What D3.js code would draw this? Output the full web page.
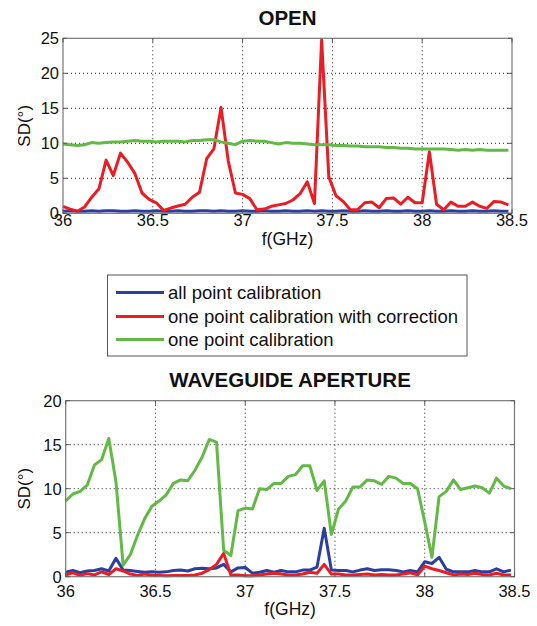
<!DOCTYPE html>
<html>
<head>
<meta charset="utf-8">
<script src="https://cdn.jsdelivr.net/npm/d3@7/dist/d3.min.js"></script>
<style>
  html, body { margin: 0; padding: 0; background: #fff; }
  svg { display: block; font-family: "Liberation Sans", Arial, sans-serif; }
</style>
</head>
<body>
<svg id="chart" width="537" height="626"></svg>
<script>
// ---------- DATA ----------
const freq = [36.00,36.04,36.08,36.12,36.16,36.20,36.24,36.28,36.32,36.36,
  36.40,36.44,36.48,36.52,36.56,36.60,36.64,36.68,36.72,36.76,
  36.80,36.84,36.88,36.92,36.96,37.00,37.04,37.08,37.12,37.16,
  37.20,37.24,37.28,37.32,37.36,37.40,37.44,37.48,37.52,37.56,
  37.60,37.64,37.68,37.72,37.76,37.80,37.84,37.88,37.92,37.96,
  38.00,38.04,38.08,38.12,38.16,38.20,38.24,38.28,38.32,38.36,
  38.40,38.44,38.48];

const seriesNames = ["all point calibration", "one point calibration with correction", "one point calibration"];
const seriesColors = ["#2b3f9e", "#ec1c24", "#62b946"];

// OPEN
const openAll = [0.3,0.35,0.3,0.3,0.35,0.3,0.35,0.35,0.3,0.3,
  0.35,0.3,0.3,0.35,0.3,0.3,0.35,0.3,0.3,0.35,
  0.35,0.3,0.35,0.3,0.3,0.35,0.3,0.3,0.35,0.3,
  0.3,0.35,0.3,0.3,0.35,0.3,0.35,0.3,0.3,0.35,
  0.3,0.3,0.35,0.3,0.3,0.35,0.3,0.3,0.35,0.3,
  0.3,0.35,0.3,0.3,0.35,0.3,0.3,0.35,0.3,0.3,
  0.35,0.3,0.3];
const openCorr = [1.0,0.6,0.3,0.9,2.3,3.5,7.6,5.4,8.6,7.3,
  5.7,2.9,2.0,1.5,0.4,0.75,1.05,1.3,2.3,3.0,
  7.8,9.2,15.1,7.5,2.9,2.7,2.1,0.5,0.6,1.0,
  1.2,1.4,1.9,2.8,4.5,1.4,24.8,5.2,2.5,1.7,
  0.5,0.5,1.5,1.6,0.8,2.1,2.2,1.3,2.3,1.5,
  1.5,8.8,1.3,0.5,1.6,1.0,1.0,1.6,1.0,0.7,
  1.7,1.6,1.2];
const openOne = [9.9,9.8,9.7,9.8,10.1,10.0,10.1,10.2,10.2,10.3,
  10.4,10.3,10.3,10.2,10.3,10.3,10.3,10.2,10.4,10.4,
  10.5,10.5,10.2,10.0,9.8,10.3,10.4,10.3,10.3,10.1,
  9.9,10.1,10.0,10.0,9.9,9.8,9.8,9.8,9.7,9.7,
  9.6,9.6,9.5,9.5,9.5,9.4,9.4,9.3,9.3,9.2,
  9.2,9.2,9.2,9.2,9.1,9.0,9.1,9.0,9.1,9.0,
  9.0,9.0,9.0];

// WAVEGUIDE APERTURE
const wgAll = [0.5,0.7,0.45,0.65,0.7,0.9,0.65,2.1,0.75,0.7,
  0.6,0.5,0.55,0.5,0.55,0.7,0.75,0.65,0.9,0.95,
  0.9,1.0,1.4,0.55,1.0,1.05,0.4,0.5,0.7,0.5,
  0.7,0.55,0.55,0.75,0.75,1.1,5.5,0.75,0.7,0.7,
  0.55,0.75,0.9,0.7,0.8,0.8,0.7,0.55,0.7,0.55,
  1.7,1.5,2.2,0.85,0.55,0.55,0.55,0.7,0.55,0.55,
  0.9,0.55,0.75];
const wgCorr = [0.2,0.45,0.15,0.35,0.2,0.55,0.25,0.9,0.65,0.3,
  0.15,0.3,0.15,0.15,0.1,0.15,0.15,0.15,0.2,0.4,
  0.8,1.4,2.65,0.2,0.2,0.1,0.1,0.2,0.3,0.4,
  0.3,0.2,0.2,0.3,0.5,0.4,1.4,0.3,0.3,0.2,
  0.2,0.25,0.3,0.2,0.25,0.2,0.2,0.3,0.45,0.2,
  1.2,0.9,0.7,0.45,0.2,0.3,0.25,0.4,0.25,0.2,
  0.4,0.2,0.2];
const wgOne = [8.6,9.4,9.7,10.4,12.7,13.3,15.7,10.8,1.3,2.5,
  4.7,6.6,8.0,8.6,9.3,10.6,11.0,10.9,12.1,13.6,
  15.6,15.3,3.0,2.4,7.5,7.8,7.7,10.0,9.9,10.6,
  10.6,11.4,11.6,12.6,12.6,9.8,10.9,4.8,7.7,8.6,
  10.2,10.2,11.0,10.9,10.5,11.4,11.2,10.6,10.6,10.0,
  6.2,2.2,9.1,9.7,11.0,9.9,10.1,10.3,10.1,9.5,
  11.2,10.3,10.0];

const xTicks = [36, 36.5, 37, 37.5, 38, 38.5];
const openYTicks = [0, 5, 10, 15, 20, 25];
const wgYTicks = [0, 5, 10, 15, 20];

// ---------- DRAW ----------
const svg = d3.select("#chart");

function panel(cfg) {
  const x = d3.scaleLinear().domain([36, 38.5]).range([cfg.left, cfg.right]);
  const y = d3.scaleLinear().domain([0, cfg.ymax]).range([cfg.bottom, cfg.top]);
  const g = svg.append("g");

  // grid (dotted)
  g.append("g").selectAll("line")
    .data(xTicks.filter(t => t > 36 && t < 38.5)).join("line")
    .attr("x1", d => x(d)).attr("x2", d => x(d))
    .attr("y1", cfg.top).attr("y2", cfg.bottom)
    .attr("stroke", "#222").attr("stroke-width", 1).attr("stroke-dasharray", "1,3");
  g.append("g").selectAll("line")
    .data(cfg.yTicks.filter(t => t > 0 && t < cfg.ymax)).join("line")
    .attr("x1", cfg.left).attr("x2", cfg.right)
    .attr("y1", d => y(d)).attr("y2", d => y(d))
    .attr("stroke", "#222").attr("stroke-width", 1).attr("stroke-dasharray", "1,3");

  // lines
  const line = d3.line().x((d, i) => x(freq[i])).y(d => y(d));
  cfg.series.forEach((s, k) => {
    g.append("path").datum(s)
      .attr("fill", "none")
      .attr("stroke", seriesColors[k])
      .attr("stroke-width", 3)
      .attr("stroke-linejoin", "round")
      .attr("d", line);
  });

  // box
  g.append("rect")
    .attr("x", cfg.left).attr("y", cfg.top)
    .attr("width", cfg.right - cfg.left).attr("height", cfg.bottom - cfg.top)
    .attr("fill", "none").attr("stroke", "#777").attr("stroke-width", 1.2);

  // inward ticks
  const tl = 4;
  g.append("g").selectAll("line").data(xTicks).join("line")
    .attr("x1", d => x(d)).attr("x2", d => x(d))
    .attr("y1", cfg.bottom).attr("y2", cfg.bottom - tl).attr("stroke", "#555");
  g.append("g").selectAll("line").data(xTicks).join("line")
    .attr("x1", d => x(d)).attr("x2", d => x(d))
    .attr("y1", cfg.top).attr("y2", cfg.top + tl).attr("stroke", "#555");
  g.append("g").selectAll("line").data(cfg.yTicks).join("line")
    .attr("x1", cfg.left).attr("x2", cfg.left + tl)
    .attr("y1", d => y(d)).attr("y2", d => y(d)).attr("stroke", "#555");
  g.append("g").selectAll("line").data(cfg.yTicks).join("line")
    .attr("x1", cfg.right).attr("x2", cfg.right - tl)
    .attr("y1", d => y(d)).attr("y2", d => y(d)).attr("stroke", "#555");

  // tick labels
  g.append("g").selectAll("text").data(xTicks).join("text")
    .attr("x", d => x(d)).attr("y", cfg.bottom + cfg.xTickOff)
    .attr("text-anchor", "middle").attr("font-size", 16.5).attr("fill", "#111")
    .text(d => d);
  g.append("g").selectAll("text").data(cfg.yTicks).join("text")
    .attr("x", cfg.left - 4).attr("y", d => y(d)).attr("dy", "0.36em")
    .attr("text-anchor", "end").attr("font-size", 16.5).attr("fill", "#111")
    .text(d => d);

  // titles
  g.append("text").attr("x", (cfg.left + cfg.right) / 2).attr("y", cfg.top - 13.5)
    .attr("text-anchor", "middle").attr("font-size", 20.5).attr("font-weight", "bold")
    .attr("fill", "#111").text(cfg.title);
  g.append("text").attr("x", (cfg.left + cfg.right) / 2).attr("y", cfg.bottom + cfg.xLabelOff)
    .attr("text-anchor", "middle").attr("font-size", 17.5).attr("fill", "#111")
    .text("f(GHz)");
  g.append("text")
    .attr("transform", `translate(30,${(cfg.top + cfg.bottom) / 2}) rotate(-90)`)
    .attr("text-anchor", "middle").attr("font-size", 17).attr("fill", "#111")
    .text("SD(°)");
}

panel({ left: 63, right: 512, top: 38.3, bottom: 213.3, ymax: 25, yTicks: openYTicks,
  xTickOff: 13, xLabelOff: 32, title: "OPEN", series: [openAll, openCorr, openOne] });
panel({ left: 65.7, right: 514.5, top: 400.7, bottom: 576.7, ymax: 20, yTicks: wgYTicks,
  xTickOff: 20, xLabelOff: 38, title: "WAVEGUIDE APERTURE", series: [wgAll, wgCorr, wgOne] });

// legend
const lg = svg.append("g");
lg.append("rect").attr("x", 107.5).attr("y", 275).attr("width", 359.5).attr("height", 81)
  .attr("fill", "#fff").attr("stroke", "#555").attr("stroke-width", 1);
const rowsY = [292.5, 316.5, 339.5];
seriesNames.forEach((n, i) => {
  lg.append("line").attr("x1", 116).attr("x2", 164).attr("y1", rowsY[i]).attr("y2", rowsY[i])
    .attr("stroke", seriesColors[i]).attr("stroke-width", 3);
  lg.append("text").attr("x", 168).attr("y", rowsY[i]).attr("dy", "0.35em")
    .attr("font-size", 18.5).attr("fill", "#111").text(n);
});
</script>
</body>
</html>
